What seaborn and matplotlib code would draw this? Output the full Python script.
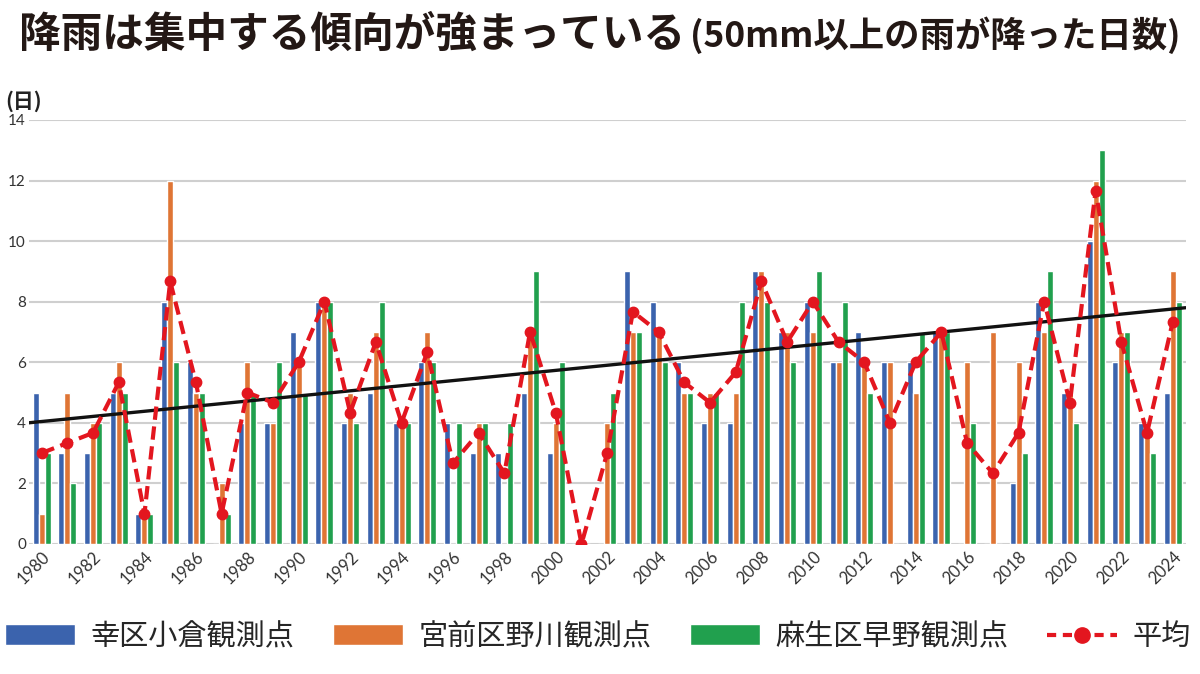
import numpy as np
import pandas as pd
import matplotlib
matplotlib.use("Agg")
import matplotlib.pyplot as plt
import seaborn as sns
from matplotlib.patches import Patch
from matplotlib.lines import Line2D

# DATA
years = list(range(1980, 2025))
saiwai = [5, 3, 3, 5, 1, 8, 6, 0, 4, 4, 7, 8, 4, 5, 4, 6, 4, 3, 3, 5, 3, 0, 0,
          9, 8, 6, 4, 4, 9, 7, 8, 6, 7, 6, 6, 7, 0, 0, 2, 8, 5, 10, 6, 4, 5]
miyamae = [1, 5, 4, 6, 1, 12, 5, 2, 6, 4, 6, 8, 5, 7, 4, 7, 0, 4, 0, 7, 4, 0, 4,
           7, 7, 5, 5, 5, 9, 7, 7, 6, 6, 6, 5, 7, 6, 7, 6, 7, 5, 12, 7, 4, 9]
asao = [3, 2, 4, 5, 1, 6, 5, 1, 5, 6, 5, 8, 4, 8, 4, 6, 4, 4, 4, 9, 6, 0, 5,
        7, 6, 5, 5, 8, 8, 6, 9, 8, 5, 0, 7, 7, 4, 0, 3, 9, 4, 13, 7, 3, 8]
sites = ["幸区小倉観測点", "宮前区野川観測点", "麻生区早野観測点"]
avg_label = "平均"
# trend line ends as drawn in the source chart
trend_start = 4.0
trend_end = 7.8

colors = ["#3b63ad", "#df7535", "#21a04e"]
red = "#e3161f"

df = pd.DataFrame({"year": years, sites[0]: saiwai, sites[1]: miyamae, sites[2]: asao})
long = df.melt(id_vars="year", var_name="site", value_name="days")
avg = df[sites].mean(axis=1).values

sns.set_theme(style="white")
plt.rcParams["font.family"] = ["Lato", "Noto Sans CJK JP", "DejaVu Sans"]
cjk = ["Noto Sans CJK JP", "DejaVu Sans"]

fig = plt.figure(figsize=(12, 6.74), dpi=100)
ax = fig.add_axes([0.024, 0.193, 0.964, 0.629])

sns.barplot(data=long, x="year", y="days", hue="site", hue_order=sites,
            palette=colors, width=0.7, saturation=1, ax=ax, legend=False)

# average line
xpos = np.arange(len(years))
ax.plot(xpos, avg, color=red, linestyle=(0, (3.2, 1.6)), linewidth=3,
        marker="o", markersize=7.5, zorder=5)

# trend line across the full plot width
xt = [-0.5, len(years) - 0.5]
ax.plot(xt, [trend_start, trend_end], color="#111111", linewidth=2.4, zorder=4)

ax.set_xlim(-0.5, len(years) - 0.5)
ax.set_ylim(0, 14)
ax.set_yticks(range(0, 15, 2))
ax.grid(axis="y", color="#cfcfcf", linewidth=1.5)
ax.set_axisbelow(True)
for s in ax.spines.values():
    s.set_visible(False)
ax.set_xlabel("")
ax.set_ylabel("")
ax.set_xticks(range(0, len(years), 2))
ax.set_xticklabels(years[::2], rotation=45, ha="right", va="top",
                   rotation_mode="anchor", fontsize=12, color="#333333")
ax.tick_params(axis="x", length=0, pad=3)
ax.tick_params(axis="y", length=0, pad=2, labelsize=11, labelcolor="#333333")

fig.text(0.004, 0.85, "(日)", fontsize=15, fontweight="bold", family=cjk,
         color="#222222", va="center")

fig.text(0.016, 0.948, "降雨は集中する傾向が強まっている", fontsize=30, fontweight="bold",
         family=cjk, color="#231815", va="center", ha="left")
fig.text(0.984, 0.948, "(50mm以上の雨が降った日数)", fontsize=25.5, fontweight="bold",
         family=cjk, color="#231815", va="center", ha="right")

handles = [Patch(facecolor=c) for c in colors]
handles.append(Line2D([0], [0], color=red, linestyle=(0, (2.2, 1.6)), linewidth=3,
                      marker="o", markersize=11))
fig.legend(handles, sites + [avg_label], loc="center left",
           bbox_to_anchor=(0.004, 1 - 637 / 674), ncol=4, frameon=False,
           prop={"family": cjk, "size": 21},
           handlelength=2.4, handleheight=0.72, handletextpad=0.55, columnspacing=1.3,
           borderpad=0, borderaxespad=0)

fig.savefig("out.png", dpi=100)
